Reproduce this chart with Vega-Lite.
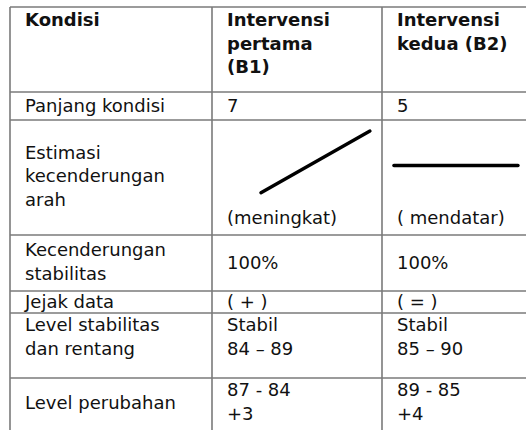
{
  "$schema": "https://vega.github.io/schema/vega-lite/v6.json",
  "width": 526,
  "height": 430,
  "padding": 0,
  "autosize": "none",
  "background": "white",
  "config": {"view": {"stroke": null}, "text": {"font": "DejaVu Sans", "fontSize": 18, "color": "#111", "lineBreak": "\n", "lineHeight": 23.5, "align": "left", "baseline": "middle"}},
  "datasets": {
    "cells": [
      {"row": 0, "col": 0, "valign": "top", "header": true, "text": "Kondisi"},
      {"row": 0, "col": 1, "valign": "top", "header": true, "text": "Intervensi\npertama\n(B1)"},
      {"row": 0, "col": 2, "valign": "top", "header": true, "text": "Intervensi\nkedua (B2)"},
      {"row": 1, "col": 0, "valign": "middle", "header": false, "text": "Panjang kondisi"},
      {"row": 1, "col": 1, "valign": "middle", "header": false, "text": "7"},
      {"row": 1, "col": 2, "valign": "middle", "header": false, "text": "5"},
      {"row": 2, "col": 0, "valign": "middle", "header": false, "text": "Estimasi\nkecenderungan\narah"},
      {"row": 2, "col": 1, "valign": "bottom", "header": false, "text": "(meningkat)"},
      {"row": 2, "col": 2, "valign": "bottom", "header": false, "text": "( mendatar)"},
      {"row": 3, "col": 0, "valign": "middle", "header": false, "text": "Kecenderungan\nstabilitas"},
      {"row": 3, "col": 1, "valign": "middle", "header": false, "text": "100%"},
      {"row": 3, "col": 2, "valign": "middle", "header": false, "text": "100%"},
      {"row": 4, "col": 0, "valign": "middle", "header": false, "text": "Jejak data"},
      {"row": 4, "col": 1, "valign": "middle", "header": false, "text": "( + )"},
      {"row": 4, "col": 2, "valign": "middle", "header": false, "text": "( = )"},
      {"row": 5, "col": 0, "valign": "top", "header": false, "text": "Level stabilitas\ndan rentang"},
      {"row": 5, "col": 1, "valign": "top", "header": false, "text": "Stabil\n84 – 89"},
      {"row": 5, "col": 2, "valign": "top", "header": false, "text": "Stabil\n85 – 90"},
      {"row": 6, "col": 0, "valign": "middle", "header": false, "text": "Level perubahan"},
      {"row": 6, "col": 1, "valign": "top", "header": false, "text": "87 - 84\n+3"},
      {"row": 6, "col": 2, "valign": "top", "header": false, "text": "89 - 85\n+4"}
    ],
    "hlines": [
      {"row": 0}, {"row": 1}, {"row": 2}, {"row": 3}, {"row": 4}, {"row": 5}, {"row": 6}
    ],
    "vlines": [
      {"col": 0}, {"col": 1}, {"col": 2}
    ],
    "trend": [
      {"series": "B1", "col": 1.288, "row": 2.632},
      {"series": "B1", "col": 1.929, "row": 2.096},
      {"series": "B2", "col": 2.067, "row": 2.395},
      {"series": "B2", "col": 2.764, "row": 2.395}
    ]
  },
  "layer": [
    {
      "data": {"name": "hlines"},
      "transform": [{"calculate": "0", "as": "c0"}, {"calculate": "3", "as": "c1"}],
      "mark": {"type": "rule", "color": "#7a7a7a", "strokeWidth": 1.6, "clip": true},
      "encoding": {
        "x": {"field": "c0", "type": "quantitative", "scale": {"domain": [0, 1, 2, 3], "range": [10, 212, 382, 560]}, "axis": null},
        "x2": {"field": "c1"},
        "y": {"field": "row", "type": "quantitative", "scale": {"domain": [0, 1, 2, 3, 4, 5, 6, 7], "range": [7, 92, 120, 235, 291, 313, 378, 427]}, "axis": null}
      }
    },
    {
      "data": {"name": "vlines"},
      "transform": [{"calculate": "0", "as": "r0"}, {"calculate": "8", "as": "r1"}],
      "mark": {"type": "rule", "color": "#7a7a7a", "strokeWidth": 1.6, "clip": true},
      "encoding": {
        "x": {"field": "col", "type": "quantitative"},
        "y": {"field": "r0", "type": "quantitative"},
        "y2": {"field": "r1"}
      }
    },
    {
      "data": {"name": "trend"},
      "mark": {"type": "line", "color": "#000", "strokeWidth": 3.4, "strokeCap": "round"},
      "encoding": {
        "x": {"field": "col", "type": "quantitative"},
        "y": {"field": "row", "type": "quantitative"},
        "detail": {"field": "series"}
      }
    },
    {
      "data": {"name": "cells"},
      "transform": [{"filter": "datum.valign === 'top' && datum.header"}],
      "mark": {"type": "text", "fontWeight": "bold", "dx": 15, "dy": 14},
      "encoding": {
        "x": {"field": "col", "type": "quantitative"},
        "y": {"field": "row", "type": "quantitative"},
        "text": {"field": "text"}
      }
    },
    {
      "data": {"name": "cells"},
      "transform": [{"filter": "datum.valign === 'top' && !datum.header"}],
      "mark": {"type": "text", "dx": 15, "dy": 13},
      "encoding": {
        "x": {"field": "col", "type": "quantitative"},
        "y": {"field": "row", "type": "quantitative"},
        "text": {"field": "text"}
      }
    },
    {
      "data": {"name": "cells"},
      "transform": [{"filter": "datum.valign === 'middle' && split(datum.text, '\\n').length === 1"}, {"calculate": "datum.row + 0.5", "as": "mid"}],
      "mark": {"type": "text", "dx": 15, "dy": 1},
      "encoding": {
        "x": {"field": "col", "type": "quantitative"},
        "y": {"field": "mid", "type": "quantitative"},
        "text": {"field": "text"}
      }
    },
    {
      "data": {"name": "cells"},
      "transform": [{"filter": "datum.valign === 'middle' && split(datum.text, '\\n').length === 2"}, {"calculate": "datum.row + 0.5", "as": "mid"}],
      "mark": {"type": "text", "dx": 15, "dy": -12},
      "encoding": {
        "x": {"field": "col", "type": "quantitative"},
        "y": {"field": "mid", "type": "quantitative"},
        "text": {"field": "text"}
      }
    },
    {
      "data": {"name": "cells"},
      "transform": [{"filter": "datum.valign === 'middle' && split(datum.text, '\\n').length === 3"}, {"calculate": "datum.row + 0.5", "as": "mid"}],
      "mark": {"type": "text", "dx": 15, "dy": -24},
      "encoding": {
        "x": {"field": "col", "type": "quantitative"},
        "y": {"field": "mid", "type": "quantitative"},
        "text": {"field": "text"}
      }
    },
    {
      "data": {"name": "cells"},
      "transform": [{"filter": "datum.valign === 'bottom'"}, {"calculate": "datum.row + 1", "as": "bot"}],
      "mark": {"type": "text", "dx": 15, "dy": -16},
      "encoding": {
        "x": {"field": "col", "type": "quantitative"},
        "y": {"field": "bot", "type": "quantitative"},
        "text": {"field": "text"}
      }
    }
  ]
}
